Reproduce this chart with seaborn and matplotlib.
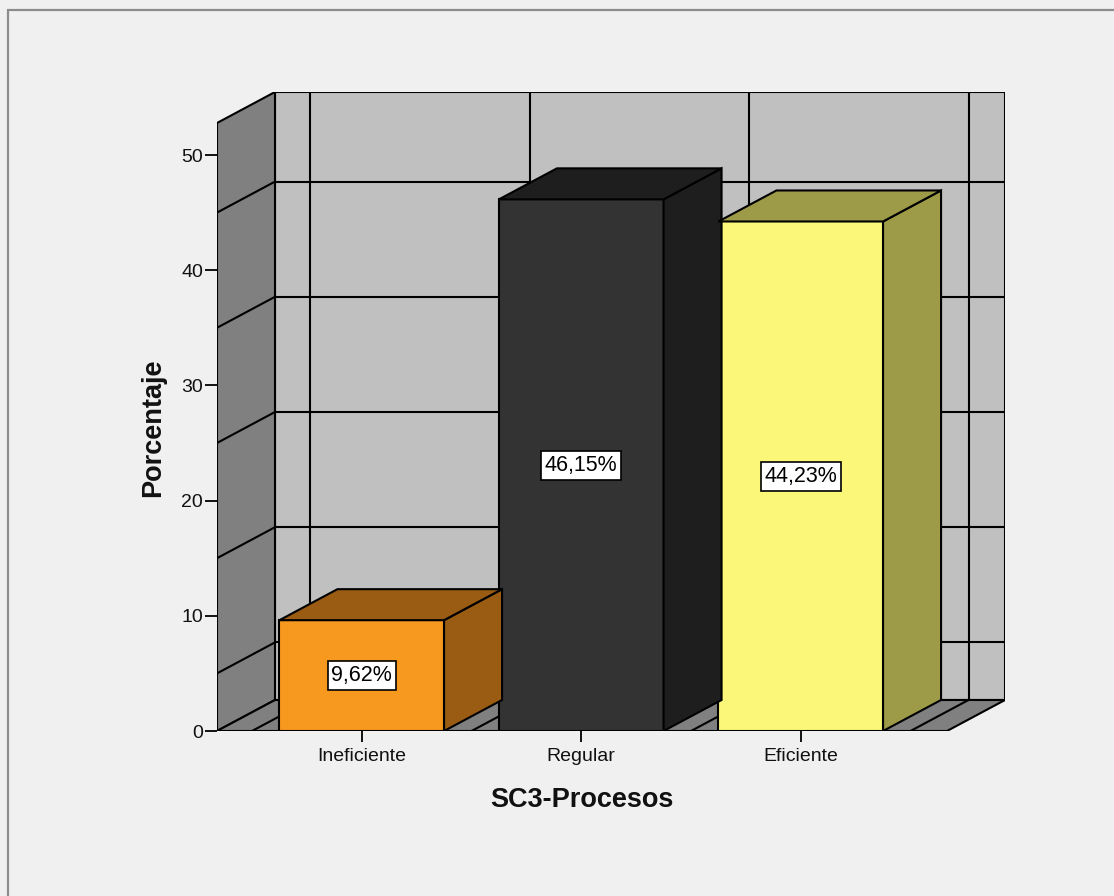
import numpy as np
import pandas as pd
import matplotlib
matplotlib.use("Agg")
import matplotlib.pyplot as plt
from matplotlib.patches import Polygon, Rectangle
import seaborn as sns

# Data
categories = ["Ineficiente", "Regular", "Eficiente"]
percentages = [9.62, 46.15, 44.23]
value_labels = ["9,62%", "46,15%", "44,23%"]
y_ticks = [0, 10, 20, 30, 40, 50]
wall_grid = [5, 15, 25, 35, 45]

# Styling
front_colors = ["#f7991e", "#333333", "#fbf778"]
shade_colors = ["#9a5c12", "#1e1e1e", "#9e9b48"]
bg = "#f0f0f0"
back_wall = "#c0c0c0"
side_wall = "#808080"
edge = "#000000"
lw = 1.5

sns.set_theme(style="white")
plt.rcParams["font.family"] = ["Liberation Sans", "DejaVu Sans"]

W, H = 1114, 896
fig = plt.figure(figsize=(W / 100, H / 100), dpi=100, facecolor=bg)

# frame around the chart area
fig.patches.append(Rectangle((8 / W, -0.1), 1.2, 1 - 10 / H + 0.1, transform=fig.transFigure,
                             facecolor="none", edgecolor="#8c8c8c", lw=1.6, zorder=0))

# plot box: front plane + depth projection
px_left, px_right, px_bottom, px_top = 217, 1005, 731, 92
ax = fig.add_axes([px_left / W, 1 - px_bottom / H, (px_right - px_left) / W, (px_bottom - px_top) / H])
ax.set_facecolor("none")

unit_x = 219.5          # px per category step
unit_y = 11.52          # px per percentage point
x0 = -0.5 - 35 / unit_x
x1 = x0 + (px_right - px_left) / unit_x
ytop = (px_bottom - px_top) / unit_y

dx = 58 / unit_x
dy = 31 / unit_y
xf1 = x1 - dx            # right end of front floor edge
wall_top = ytop - dy     # top of side wall at the front edge

# back wall
ax.add_patch(Polygon([(x0 + dx, dy), (x1, dy), (x1, ytop), (x0 + dx, ytop)], closed=True,
                     facecolor=back_wall, edgecolor=edge, lw=lw, zorder=0.5))
# side wall
ax.add_patch(Polygon([(x0, 0), (x0 + dx, dy), (x0 + dx, ytop), (x0, wall_top)], closed=True,
                     facecolor=side_wall, edgecolor=edge, lw=lw, zorder=0.6))
# floor
ax.add_patch(Polygon([(x0, 0), (xf1, 0), (x1, dy), (x0 + dx, dy)], closed=True,
                     facecolor=side_wall, edgecolor=edge, lw=lw, zorder=0.6))

# gridlines on the walls
for v in wall_grid:
    ax.plot([x0 + dx, x1], [v + dy, v + dy], color=edge, lw=lw, zorder=0.7)
    ax.plot([x0, x0 + dx], [v, v + dy], color=edge, lw=lw, zorder=0.7)
boundaries = np.arange(len(categories) + 1) - 0.5
for b in boundaries:
    ax.plot([b + dx, b + dx], [dy, ytop], color=edge, lw=lw, zorder=0.7)
    ax.plot([b, b + dx], [0, dy], color=edge, lw=lw, zorder=0.7)

# bars
df = pd.DataFrame({"cat": categories, "pct": percentages})
bw = 0.75
sns.barplot(data=df, x="cat", y="pct", hue="cat", palette=front_colors, order=categories,
            hue_order=categories, width=bw, dodge=False, legend=False, ax=ax,
            edgecolor=edge, linewidth=lw, saturation=1)
for cont in ax.containers:
    for p in cont:
        p.set_zorder(3)

for i, (v, shade) in enumerate(zip(percentages, shade_colors)):
    l, r = i - bw / 2, i + bw / 2
    ax.add_patch(Polygon([(r, 0), (r + dx, dy), (r + dx, v + dy), (r, v)], closed=True,
                         facecolor=shade, edgecolor=edge, lw=lw, zorder=3))
    ax.add_patch(Polygon([(l, v), (r, v), (r + dx, v + dy), (l + dx, v + dy)], closed=True,
                         facecolor=shade, edgecolor=edge, lw=lw, zorder=3))
    ax.text(i, v / 2, value_labels[i], ha="center", va="center", fontsize=15.5, color="black",
            zorder=5, bbox=dict(boxstyle="square,pad=0.18", facecolor="white", edgecolor=edge, lw=1.2))

# axes decoration
for s in ax.spines.values():
    s.set_visible(False)
ax.set_xlim(x0, x1)
ax.set_ylim(0, ytop)
ax.set_yticks(y_ticks)
ax.set_yticklabels([str(t) for t in y_ticks])
ax.set_xticks(range(len(categories)))
ax.set_xticklabels(categories)
ax.tick_params(axis="y", direction="out", length=8.5, width=1.3, color="black", pad=1.5,
               labelsize=14, labelcolor="#111111", left=True)
ax.tick_params(axis="x", direction="out", length=8, width=1.3, color="black", pad=4,
               labelsize=14, labelcolor="#111111", bottom=True)

ax.set_xlabel("SC3-Procesos", fontsize=19.5, fontweight="bold", color="#111111")
ax.set_ylabel("Porcentaje", fontsize=19.5, fontweight="bold", color="#111111")
ax.xaxis.set_label_coords((582 - px_left) / (px_right - px_left), (px_bottom - 800) / (px_bottom - px_top))
ax.yaxis.set_label_coords((153 - px_left) / (px_right - px_left), (px_bottom - 428) / (px_bottom - px_top))
ax.xaxis.label.set_va("center")
ax.yaxis.label.set_va("center")

fig.savefig("out.png", dpi=100, facecolor=bg)
